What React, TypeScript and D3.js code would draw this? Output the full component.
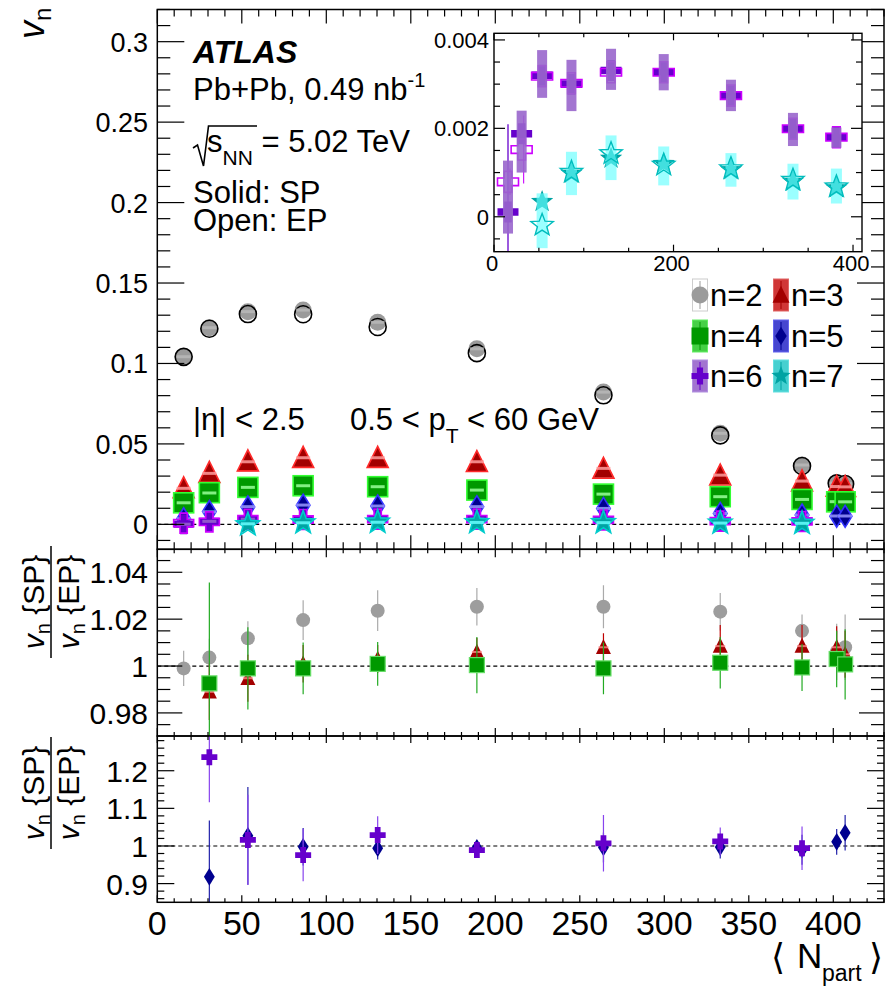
import React from "react";
import * as d3 from "d3";

// ---------------- data ----------------
const npartAll = [15.6, 30.8, 53.6, 86.3, 130.4, 189.1, 264.0, 333.1, 381.5, 402.0, 407.0];
const npartN6 = [15.6, 30.8, 53.6, 86.3, 130.4, 189.1, 264.0, 333.1, 381.5];
const npartN7 = [53.6, 86.3, 130.4, 189.1, 264.0, 333.1, 381.5];

const v2SP = [0.1042, 0.1222, 0.1322, 0.1332, 0.1256, 0.1091, 0.0822, 0.0566, 0.0369, 0.0257, 0.0253];
const v2EP = [0.1041, 0.1216, 0.1307, 0.1306, 0.1227, 0.1064, 0.0802, 0.0553, 0.0363, 0.0255, 0.0251];
const v3SP = [0.0224, 0.0317, 0.0389, 0.0414, 0.0414, 0.0389, 0.0348, 0.0306, 0.0269, 0.0235, 0.0233];
const v3EP = [0.0224, 0.0320, 0.0391, 0.0413, 0.0413, 0.0387, 0.0345, 0.0303, 0.0267, 0.0233, 0.0232];
const v4SP = [0.0134, 0.0195, 0.0230, 0.0240, 0.0234, 0.0213, 0.0188, 0.0172, 0.0155, 0.0141, 0.0140];
const v4EP = [0.0134, 0.0197, 0.0230, 0.0240, 0.0234, 0.0213, 0.0188, 0.0172, 0.0155, 0.0140, 0.0140];
const v5SP = [0.0035, 0.0078, 0.0110, 0.0120, 0.0114, 0.0110, 0.0099, 0.0068, 0.0058, 0.0052, 0.0052];
const v5EP = [0.0035, 0.0080, 0.0108, 0.0119, 0.0114, 0.0110, 0.0099, 0.0068, 0.0058, 0.0051, 0.0050];

const v6SP = [0.00011, 0.00188, 0.00320, 0.00300, 0.00331, 0.00327, 0.00274, 0.00199, 0.00180];
const v6EP = [0.00079, 0.00152, 0.00318, 0.00302, 0.00327, 0.00327, 0.00274, 0.00199, 0.00180];
const v6SPstat = [0.00198, 0.0002, 0.0001, 0.0001, 0.0001, 0.0001, 0.0001, 0.0001, 0.0001];
const v6EPstat = [0.0003, 0.00077, 0.0001, 0.0001, 0.0001, 0.0001, 0.0001, 0.0001, 0.0001];
const v6SysHi = [0.00127, 0.00240, 0.00377, 0.00355, 0.00380, 0.00368, 0.00310, 0.00235, 0.00202];
const v6SysLo = [-0.00038, 0.00100, 0.00269, 0.00239, 0.00287, 0.00286, 0.00239, 0.00160, 0.00156];

const v7SP = [0.00034, 0.00098, 0.00132, 0.00120, 0.00106, 0.00080, 0.00065];
const v7EP = [-0.00019, 0.00101, 0.00143, 0.00117, 0.00109, 0.00083, 0.00068];
const v7SysHi = [0.00053, 0.00147, 0.00184, 0.00159, 0.00144, 0.00120, 0.00109];
const v7SysLo = [-0.00071, 0.00049, 0.00083, 0.00071, 0.00068, 0.00039, 0.00030];

const r2 = [0.999, 1.0036, 1.0118, 1.0196, 1.0236, 1.0253, 1.0253, 1.0232, 1.015, 1.006, 1.008];
const r2Err = [0.0075, 0.008, 0.0073, 0.0085, 0.0087, 0.008, 0.0092, 0.008, 0.007, 0.012, 0.014];
const r3 = [null, 0.989, 0.9948, 1.001, 1.003, 1.006, 1.008, 1.0085, 1.0085, 1.008, 1.005];
const r3Err = [null, 0.012, 0.01, 0.008, 0.006, 0.006, 0.006, 0.009, 0.009, 0.009, 0.01];
const r4 = [null, 0.9926, 0.999, 0.999, 1.0009, 1.0004, 0.999, 1.0014, 0.9994, 1.003, 1.0007];
const r4Err = [null, 0.043, 0.0175, 0.011, 0.0093, 0.012, 0.011, 0.011, 0.01, 0.012, 0.015];
const r5 = [null, 0.918, 1.027, 0.998, 0.994, 0.995, 0.996, 0.997, 0.99, 1.011, 1.035];
const r5Err = [null, 0.15, 0.13, 0.05, 0.03, 0.02, 0.04, 0.03, 0.04, 0.034, 0.047];
const r6 = [null, 1.236, 1.016, 0.976, 1.029, 0.989, 1.007, 1.012, 0.994, null, null];
const r6Err = [null, 0.12, 0.12, 0.07, 0.05, 0.015, 0.075, 0.037, 0.058, null, null];

const xTickLabels = ["0", "50", "100", "150", "200", "250", "300", "350", "400"];
const xTickValues = [0, 50, 100, 150, 200, 250, 300, 350, 400];
const mainYTickValues = [0, 0.05, 0.1, 0.15, 0.2, 0.25, 0.3];
const mainYTickLabels = ["0", "0.05", "0.1", "0.15", "0.2", "0.25", "0.3"];
const r1TickValues = [0.98, 1, 1.02, 1.04];
const r1TickLabels = ["0.98", "1", "1.02", "1.04"];
const r2TickValues = [0.9, 1, 1.1, 1.2];
const r2TickLabels = ["0.9", "1", "1.1", "1.2"];
const inYTickValues = [0, 0.002, 0.004];
const inYTickLabels = ["0", "0.002", "0.004"];
const inXTickValues = [0, 200, 400];
const inXTickLabels = ["0", "200", "400"];
const legendLabels = ["n=2", "n=3", "n=4", "n=5", "n=6", "n=7"];

// ---------------- layout ----------------
const FONT = "'Liberation Sans', Arial, Helvetica, sans-serif";
const X0 = 157.3, X1 = 884;
const MAIN_T = 9.5, MAIN_B = 549.3, R1_B = 736, R2_B = 902.3;

const xS = d3.scaleLinear().domain([0, 430]).range([X0, X1]);
const yMain = d3.scaleLinear().domain([-0.0155, 0.32]).range([MAIN_B, MAIN_T]);
const yR1 = d3.scaleLinear().domain([0.97015, 1.0498]).range([R1_B, MAIN_B]);
const yR2 = d3.scaleLinear().domain([0.8503, 1.2923]).range([R2_B, R1_B]);
const xIn = d3.scaleLinear().domain([0, 410]).range([494, 862]);
const yIn = d3.scaleLinear().domain([-0.00079, 0.00415]).range([251.7, 33.3]);

type Kind = "circle" | "triangle" | "square" | "diamond" | "cross" | "star";

function Marker(p: { kind: Kind; cx: number; cy: number; s: number; fill: string; stroke?: string; sw?: number; opacity?: number }) {
  const { kind, cx, cy, s } = p;
  const common = { fill: p.fill, stroke: p.stroke || "none", strokeWidth: p.sw || 1, opacity: p.opacity ?? 1 };
  if (kind === "circle") return <circle cx={cx} cy={cy} r={s} {...common} />;
  if (kind === "square") return <rect x={cx - s} y={cy - s} width={2 * s} height={2 * s} {...common} />;
  let pts: [number, number][] = [];
  if (kind === "triangle") pts = [[0, -1.1 * s], [s, 0.9 * s], [-s, 0.9 * s]];
  if (kind === "diamond") pts = [[0, -1.1 * s], [0.68 * s, 0], [0, 1.1 * s], [-0.68 * s, 0]];
  if (kind === "cross") {
    const t = 0.36 * s;
    pts = [[-t, -s], [t, -s], [t, -t], [s, -t], [s, t], [t, t], [t, s], [-t, s], [-t, t], [-s, t], [-s, -t], [-t, -t]];
  }
  if (kind === "star") {
    const R = 1.12 * s;
    for (let i = 0; i < 10; i++) {
      const a = -Math.PI / 2 + (i * Math.PI) / 5;
      const r = i % 2 === 0 ? R : R * 0.42;
      pts.push([r * Math.cos(a), r * Math.sin(a)]);
    }
  }
  const d = "M" + pts.map(([a, b]) => `${(cx + a).toFixed(2)},${(cy + b).toFixed(2)}`).join("L") + "Z";
  return <path d={d} {...common} strokeLinejoin="miter" />;
}

function tickList(d0: number, d1: number, minor: number, major: number) {
  const out: { v: number; major: boolean }[] = [];
  const k0 = Math.ceil(d0 / minor - 1e-6), k1 = Math.floor(d1 / minor + 1e-6);
  for (let k = k0; k <= k1; k++) {
    const v = k * minor;
    const r = v / major;
    out.push({ v, major: Math.abs(r - Math.round(r)) < 1e-6 });
  }
  return out;
}

function Frame(p: {
  xs: d3.ScaleLinear<number, number>; ys: d3.ScaleLinear<number, number>;
  xMinor: number; xMajor: number; yMinor: number; yMajor: number;
  xLen: [number, number]; yLen: [number, number]; sw?: number; fill?: string;
}) {
  const [x0, x1] = p.xs.range();
  const [yb, yt] = p.ys.range();
  const [dx0, dx1] = p.xs.domain();
  const [dy0, dy1] = p.ys.domain();
  const lines: JSX.Element[] = [];
  tickList(dx0, dx1, p.xMinor, p.xMajor).forEach((t, i) => {
    const px = p.xs(t.v);
    const L = t.major ? p.xLen[0] : p.xLen[1];
    lines.push(<line key={"xb" + i} x1={px} x2={px} y1={yb} y2={yb - L} />);
    lines.push(<line key={"xt" + i} x1={px} x2={px} y1={yt} y2={yt + L} />);
  });
  tickList(dy0, dy1, p.yMinor, p.yMajor).forEach((t, i) => {
    const py = p.ys(t.v);
    const L = t.major ? p.yLen[0] : p.yLen[1];
    lines.push(<line key={"yl" + i} x1={x0} x2={x0 + L} y1={py} y2={py} />);
    lines.push(<line key={"yr" + i} x1={x1} x2={x1 - L} y1={py} y2={py} />);
  });
  return (
    <g stroke="#000" strokeWidth={1.2}>
      <rect x={x0} y={yt} width={x1 - x0} height={yb - yt} fill={p.fill || "none"} strokeWidth={p.sw || 1.5} />
      {lines}
    </g>
  );
}

type Style = { kind: Kind; solid: string; open: string; box: string; s: number };
const ST: Record<string, Style> = {
  n2: { kind: "circle", solid: "#9b9b9b", open: "#000000", box: "#b8b8b8", s: 8.5 },
  n3: { kind: "triangle", solid: "#a30000", open: "#ff2a2a", box: "#ff9c9c", s: 10.5 },
  n4: { kind: "square", solid: "#009900", open: "#33ff33", box: "#99ff99", s: 10 },
  n5: { kind: "diamond", solid: "#00008f", open: "#3333ff", box: "#9999ff", s: 10 },
  n6: { kind: "cross", solid: "#6600cc", open: "#cc00ff", box: "#9966cc", s: 10 },
  n7: { kind: "star", solid: "#00a3a3", open: "#00cccc", box: "#66ffff", s: 11 },
};

function MainSeries(p: { xs: number[]; sp: number[]; ep: number[]; st: Style; yScale: d3.ScaleLinear<number, number>; xScale: d3.ScaleLinear<number, number> }) {
  const { st } = p;
  return (
    <g>
      {p.xs.map((n, i) => (
        <g key={i}>
          <Marker kind={st.kind} cx={p.xScale(n)} cy={p.yScale(p.sp[i])} s={st.s} fill={st.solid} />
          <Marker kind={st.kind} cx={p.xScale(n)} cy={p.yScale(p.ep[i])} s={st.s} fill="none" stroke={st.open} sw={1.6} />
          <rect x={p.xScale(n) - 7} y={p.yScale(p.sp[i]) - 1.5} width={14} height={3} fill={st.box} opacity={0.85} />
        </g>
      ))}
    </g>
  );
}

function RatioSeries(p: { vals: (number | null)[]; errs: (number | null)[]; kind: Kind; s: number; fill: string; stroke?: string; err: string; ys: d3.ScaleLinear<number, number>; dash?: string }) {
  return (
    <g>
      {npartAll.map((n, i) => {
        const v = p.vals[i];
        const e = p.errs[i];
        if (v == null) return null;
        const cx = xS(n), cy = p.ys(v);
        return (
          <g key={i}>
            {e != null && <line x1={cx} x2={cx} y1={p.ys(v - e)} y2={p.ys(v + e)} stroke={p.err} strokeWidth={1.2} />}
            <Marker kind={p.kind} cx={cx} cy={cy} s={p.s} fill={p.fill} stroke={p.stroke} sw={1.2} />
            {p.dash && <rect x={cx - 5} y={cy - 1} width={10} height={2} fill={p.dash} opacity={0.8} />}
          </g>
        );
      })}
    </g>
  );
}

function RatioTitle(p: { cx: number; cy: number }) {
  return (
    <g transform={`translate(${p.cx},${p.cy}) rotate(-90)`}>
      <text x={0} y={-7} fontSize={30} textAnchor="middle"><tspan fontStyle="italic">v</tspan><tspan fontSize={20} dy={6}>n</tspan><tspan dy={-6}> {"{SP}"}</tspan></text>
      <line x1={-56} x2={56} y1={0} y2={0} stroke="#000" strokeWidth={1.5} />
      <text x={0} y={28} fontSize={30} textAnchor="middle"><tspan fontStyle="italic">v</tspan><tspan fontSize={20} dy={6}>n</tspan><tspan dy={-6}> {"{EP}"}</tspan></text>
    </g>
  );
}

export default function App() {
  const legendCols = [700, 781];
  const legendRows = [295, 336, 376];
  const legendStyles = [ST.n2, ST.n3, ST.n4, ST.n5, ST.n6, ST.n7];
  const legendBox = ["#ffffff", "#cc2222", "#33cc33", "#3333cc", "#9966cc", "#33cccc"];
  const legendBoxStroke = ["#c8c8c8", "#dd5555", "#55ee55", "#5555ee", "#aa88dd", "#55dddd"];

  return (
    <svg width={894} height={987} style={{ position: "absolute", left: 0, top: 0, display: "block" }} fontFamily={FONT}>
      <defs>
        <clipPath id="cR1"><rect x={X0} y={MAIN_B} width={X1 - X0} height={R1_B - MAIN_B} /></clipPath>
        <clipPath id="cR2"><rect x={X0} y={R1_B} width={X1 - X0} height={R2_B - R1_B} /></clipPath>
        <clipPath id="cIn"><rect x={494} y={33.3} width={368} height={218.4} /></clipPath>
      </defs>
      <rect x={0} y={0} width={894} height={987} fill="#fff" />

      {/* ---------- main panel ---------- */}
      <line x1={X0} x2={X1} y1={yMain(0)} y2={yMain(0)} stroke="#000" strokeWidth={1.2} strokeDasharray="4 3" />
      <MainSeries xs={npartAll} sp={v2SP} ep={v2EP} st={ST.n2} xScale={xS} yScale={yMain} />
      <MainSeries xs={npartAll} sp={v3SP} ep={v3EP} st={ST.n3} xScale={xS} yScale={yMain} />
      <MainSeries xs={npartAll} sp={v4SP} ep={v4EP} st={ST.n4} xScale={xS} yScale={yMain} />
      <MainSeries xs={npartAll} sp={v5SP} ep={v5EP} st={ST.n5} xScale={xS} yScale={yMain} />
      <MainSeries xs={npartN6} sp={v6SP} ep={v6EP} st={ST.n6} xScale={xS} yScale={yMain} />
      <MainSeries xs={npartN7} sp={v7SP} ep={v7EP} st={ST.n7} xScale={xS} yScale={yMain} />
      <Frame xs={xS} ys={yMain} xMinor={10} xMajor={50} yMinor={0.01} yMajor={0.05} xLen={[14, 7]} yLen={[27, 13]} />
      {mainYTickValues.map((v, i) => (
        <text key={i} x={148} y={yMain(v) + 10} fontSize={27} textAnchor="end">{mainYTickLabels[i]}</text>
      ))}
      <text transform="translate(44,39) rotate(-90)" fontSize={36}>
        <tspan fontStyle="italic">v</tspan>
        <tspan fontSize={24} dy={7}>n</tspan>
      </text>

      {/* annotations */}
      <text x={193} y={63} fontSize={32} fontWeight="bold" fontStyle="italic">ATLAS</text>
      <text x={193} y={100} fontSize={31}>Pb+Pb, 0.49 nb<tspan fontSize={20} dy={-13}>-1</tspan></text>
      <path d="M193,148 L197.5,145 L203.5,166 L208.5,126 L257,126" fill="none" stroke="#000" strokeWidth={1.6} strokeLinejoin="miter" />
      <text x={207} y={152} fontSize={31}>s<tspan fontSize={21} dy={13}>NN</tspan><tspan dy={-13}> = 5.02 TeV</tspan></text>
      <text x={193} y={203} fontSize={31}>Solid: SP</text>
      <text x={193} y={231} fontSize={31}>Open: EP</text>
      <text x={193} y={430} fontSize={31}>|η| &lt; 2.5</text>
      <text x={350} y={430} fontSize={31}>0.5 &lt; p<tspan fontSize={21} dy={13}>T</tspan><tspan dy={-13}> &lt; 60 GeV</tspan></text>

      {/* legend */}
      {legendLabels.map((lab, i) => {
        const cx = legendCols[i % 2];
        const cy = legendRows[Math.floor(i / 2)];
        const st = legendStyles[i];
        return (
          <g key={i}>
            <rect x={cx - 7.5} y={cy - 16} width={15} height={32} fill={legendBox[i]} stroke={legendBoxStroke[i]} strokeWidth={1} opacity={0.9} />
            <line x1={cx} x2={cx} y1={cy - 14} y2={cy + 14} stroke={st.solid} strokeWidth={1} />
            <Marker kind={st.kind} cx={cx} cy={cy} s={st.kind === "star" ? 9 : 8.5} fill={st.solid} />
            <text x={cx + 10} y={cy + 11} fontSize={31}>{lab}</text>
          </g>
        );
      })}

      {/* ---------- inset ---------- */}
      <rect x={494} y={33.3} width={368} height={218.4} fill="#fff" />
      <g clipPath="url(#cIn)">
        {npartN6.map((n, i) => (
          <g key={"s6" + i}>
            <line x1={xIn(n)} x2={xIn(n)} y1={yIn(v6SP[i] - v6SPstat[i])} y2={yIn(v6SP[i] + v6SPstat[i])} stroke="#6600cc" strokeWidth={1.3} />
            <line x1={xIn(n) + 2} x2={xIn(n) + 2} y1={yIn(v6EP[i] - v6EPstat[i])} y2={yIn(v6EP[i] + v6EPstat[i])} stroke="#cc00ff" strokeWidth={1.1} />
            <Marker kind="cross" cx={xIn(n)} cy={yIn(v6SP[i])} s={10.5} fill="#6600cc" />
            <Marker kind="cross" cx={xIn(n)} cy={yIn(v6EP[i])} s={10.5} fill="none" stroke="#cc00ff" sw={1.6} />
            <rect x={xIn(n) - 5} y={yIn(v6SysHi[i])} width={10} height={yIn(v6SysLo[i]) - yIn(v6SysHi[i])} fill="#9966cc" opacity={0.9} />
          </g>
        ))}
        {npartN7.map((n, i) => (
          <g key={"s7" + i}>
            <Marker kind="star" cx={xIn(n)} cy={yIn(v7SP[i])} s={10.5} fill="#00a3a3" />
            <rect x={xIn(n) - 5.5} y={yIn(v7SysHi[i])} width={11} height={yIn(v7SysLo[i]) - yIn(v7SysHi[i])} fill="#66ffff" opacity={0.65} />
            <Marker kind="star" cx={xIn(n)} cy={yIn(v7EP[i])} s={10.5} fill="none" stroke="#00bdbd" sw={1.4} />
          </g>
        ))}
      </g>
      <Frame xs={xIn} ys={yIn} xMinor={50} xMajor={200} yMinor={0.0005} yMajor={0.002} xLen={[7, 4]} yLen={[11, 6]} sw={1.4} />
      {inYTickValues.map((v, i) => (
        <text key={i} x={489} y={yIn(v) + 8} fontSize={22} textAnchor="end">{inYTickLabels[i]}</text>
      ))}
      {inXTickValues.map((v, i) => (
        <text key={i} x={xIn(v) - 2} y={271} fontSize={22} textAnchor="middle">{inXTickLabels[i]}</text>
      ))}

      {/* ---------- ratio panel 1 ---------- */}
      <line x1={X0} x2={X1} y1={yR1(1)} y2={yR1(1)} stroke="#000" strokeWidth={1.2} strokeDasharray="4 3" />
      <g clipPath="url(#cR1)">
        <RatioSeries vals={r2} errs={r2Err} kind="circle" s={7} fill="#9d9d9d" err="#aaaaaa" ys={yR1} />
        <RatioSeries vals={r3} errs={r3Err} kind="triangle" s={7.5} fill="#a30000" err="#c00000" ys={yR1} dash="#ff8888" />
        <RatioSeries vals={r4} errs={r4Err} kind="square" s={7.5} fill="#009900" stroke="#66dd66" err="#22aa22" ys={yR1} />
      </g>
      <Frame xs={xS} ys={yR1} xMinor={10} xMajor={50} yMinor={0.005} yMajor={0.02} xLen={[8, 4]} yLen={[25, 13]} />
      {r1TickValues.map((v, i) => (
        <text key={i} x={148} y={yR1(v) + 11} fontSize={30} textAnchor="end">{r1TickLabels[i]}</text>
      ))}
      <RatioTitle cx={51} cy={602} />

      {/* ---------- ratio panel 2 ---------- */}
      <line x1={X0} x2={X1} y1={yR2(1)} y2={yR2(1)} stroke="#000" strokeWidth={1.2} strokeDasharray="4 3" />
      <g clipPath="url(#cR2)">
        <RatioSeries vals={r5} errs={r5Err} kind="diamond" s={8} fill="#00008f" err="#2222aa" ys={yR2} />
        <RatioSeries vals={r6} errs={r6Err} kind="cross" s={8} fill="#6600cc" err="#8844ee" ys={yR2} />
      </g>
      <Frame xs={xS} ys={yR2} xMinor={10} xMajor={50} yMinor={0.02} yMajor={0.1} xLen={[7, 4]} yLen={[17, 7]} />
      {r2TickValues.map((v, i) => (
        <text key={i} x={148} y={yR2(v) + 11} fontSize={30} textAnchor="end">{r2TickLabels[i]}</text>
      ))}
      <RatioTitle cx={51} cy={793} />

      {/* x axis labels */}
      {xTickValues.map((v, i) => (
        <text key={i} x={xS(v)} y={935} fontSize={34} textAnchor="middle">{xTickLabels[i]}</text>
      ))}
      <text x={771} y={969} fontSize={36} fontFamily="'DejaVu Sans', sans-serif">⟨</text>
      <text x={797} y={968} fontSize={35}>N</text>
      <text x={822} y={981} fontSize={23}>part</text>
      <text x={869} y={969} fontSize={36} fontFamily="'DejaVu Sans', sans-serif">⟩</text>
    </svg>
  );
}
